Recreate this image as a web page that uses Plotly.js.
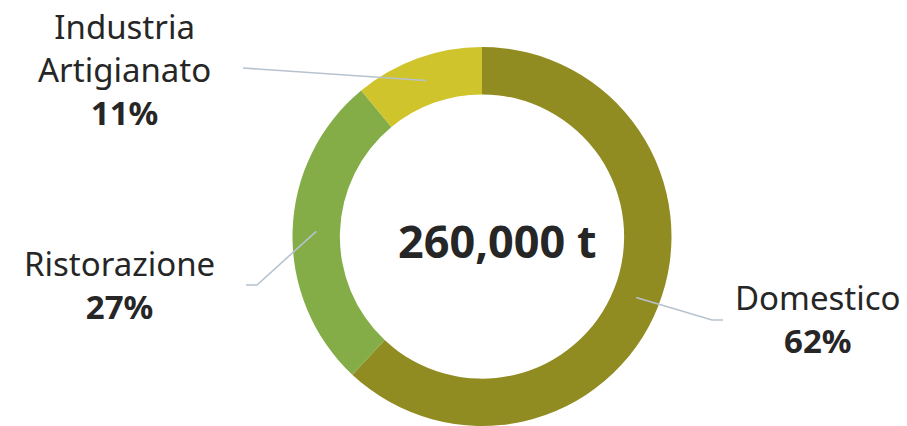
<!DOCTYPE html>
<html>
<head>
<meta charset="utf-8">
<script src="https://cdn.plot.ly/plotly-3.0.1.min.js"></script>
<style>html,body{margin:0;padding:0;background:#fff;}#chart{width:907px;height:426px;}</style>
</head>
<body>
<div id="chart"></div>
<script>
// Data
var categories = ["Domestico", "Ristorazione", "Industria<br>Artigianato"];
var shares = [62, 27, 11];
var colors = ["#918c22", "#84ad48", "#cfc42b"];
var totalLabel = "260,000 t";

var W = 907, H = 426;
var cx = 482, cy = 236.5, R = 189.5, hole = 0.75;

function px(x){ return x / W; }
function py(y){ return 1 - y / H; }

var trace = {
  type: "pie",
  values: shares,
  labels: categories,
  sort: false,
  direction: "clockwise",
  rotation: 0,
  hole: hole,
  textinfo: "none",
  hoverinfo: "skip",
  marker: {colors: colors, line: {width: 0}},
  domain: {x: [(cx - R) / W, (cx + R) / W], y: [1 - (cy + R) / H, 1 - (cy - R) / H]},
  showlegend: false
};

// Label positions (layout) and leader line outer ends
var labelPos = [
  {x: 818, y: 319, path: [[712, 320], [723, 320]]},
  {x: 119, y: 285, path: [[257, 285], [246, 285]]},
  {x: 124, y: 69,  path: [[243, 68]]}
];

var total = shares.reduce(function(a, b){ return a + b; }, 0);
var rm = R * (1 + hole) / 2;
var shapes = [], annotations = [];
var cum = 0;
for (var i = 0; i < shares.length; i++) {
  var mid = (cum + shares[i] / 2) / total;
  cum += shares[i];
  var th = mid * 2 * Math.PI;
  var sx = cx + rm * Math.sin(th), sy = cy - rm * Math.cos(th);
  var d = "M" + px(sx) + "," + py(sy);
  labelPos[i].path.forEach(function(p){ d += " L" + px(p[0]) + "," + py(p[1]); });
  shapes.push({type: "path", xref: "paper", yref: "paper", path: d,
    line: {color: "#b7c2cf", width: 1.6}});
  annotations.push({
    xref: "paper", yref: "paper", x: px(labelPos[i].x), y: py(labelPos[i].y),
    xanchor: "center", yanchor: "middle", showarrow: false, align: "center",
    text: categories[i] + "<br><b>" + shares[i] + "%</b>",
    font: {family: "Noto Sans, sans-serif", size: 33, color: "#262626"}
  });
}
annotations.push({
  xref: "paper", yref: "paper", x: px(497), y: py(241),
  xanchor: "center", yanchor: "middle", showarrow: false,
  text: "<b>" + totalLabel + "</b>",
  font: {family: "Noto Sans, sans-serif", size: 45, color: "#262626"}
});

var layout = {
  width: W, height: H,
  margin: {l: 0, r: 0, t: 0, b: 0},
  paper_bgcolor: "#ffffff",
  plot_bgcolor: "#ffffff",
  shapes: shapes,
  annotations: annotations,
  showlegend: false
};

Plotly.newPlot("chart", [trace], layout, {displayModeBar: false, staticPlot: true});
</script>
</body>
</html>
